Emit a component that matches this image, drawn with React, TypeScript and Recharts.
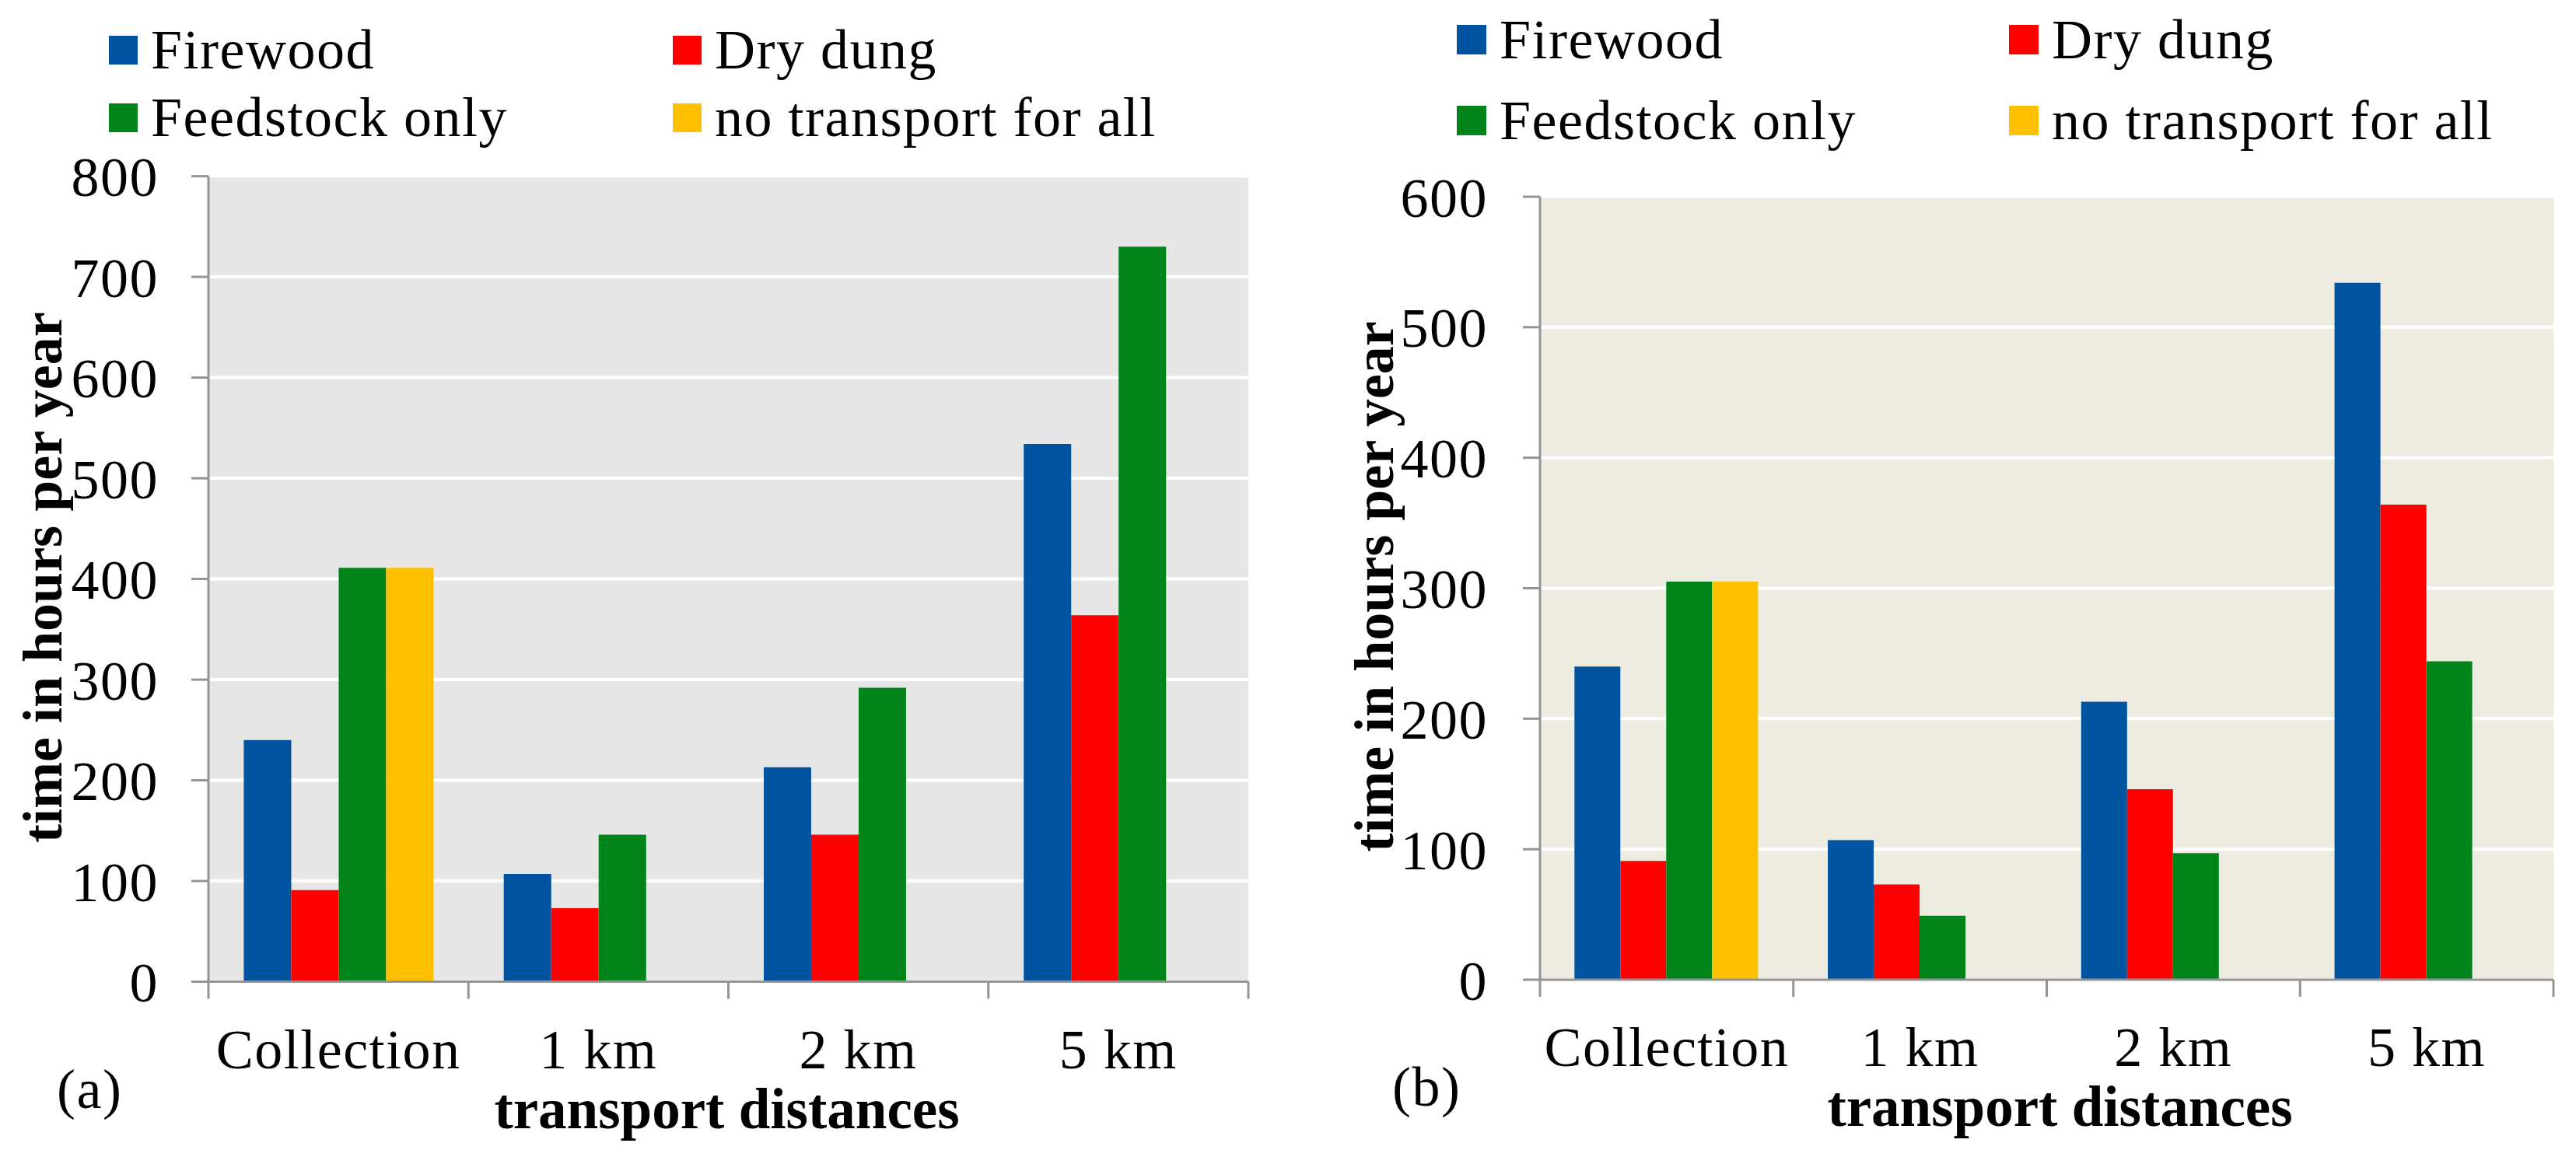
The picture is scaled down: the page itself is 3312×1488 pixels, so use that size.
import React from 'react';
import { BarChart, Bar, XAxis, YAxis, CartesianGrid, Legend, Label } from 'recharts';

// ---- data ----
const categories = ['Collection', '1 km', '2 km', '5 km'];
const seriesKeys = ['firewood', 'dryDung', 'feedstock', 'noTransport'];
const seriesNames = ['Firewood', 'Dry dung', 'Feedstock only', 'no transport for all'];
const seriesColors = ['#00539F', '#FF0000', '#00841A', '#FFC000'];

const firewoodA = [240, 107, 213, 534];
const dryDungA = [91, 73, 146, 364];
const feedstockA = [411, 146, 292, 730];
const noTransportA = [411, null, null, null];

const firewoodB = [240, 107, 213, 534];
const dryDungB = [91, 73, 146, 364];
const feedstockB = [305, 49, 97, 244];
const noTransportB = [305, null, null, null];

const ticksA = [0, 100, 200, 300, 400, 500, 600, 700, 800];
const ticksB = [0, 100, 200, 300, 400, 500, 600];

const yTitle = 'time in hours per year';
const xTitle = 'transport distances';

const buildRows = (f: any[], d: any[], s: any[], n: any[]) =>
  categories.map((c, i) => ({ category: c, firewood: f[i], dryDung: d[i], feedstock: s[i], noTransport: n[i] }));

const dataA = buildRows(firewoodA, dryDungA, feedstockA, noTransportA);
const dataB = buildRows(firewoodB, dryDungB, feedstockB, noTransportB);

// ---- styles ----
const FONT = '"Liberation Serif", "Times New Roman", serif';
const AXIS_GRAY = '#949494';
const TEXT_SIZE = 72;
const LETTER = 1.5;

type PanelProps = {
  data: any[];
  ticks: number[];
  bg: string;
  top: number;
  right: number;
  yAxisWidth: number;
  xAxisHeight: number;
  tickMargin: number;
  legendCols: number[];
  legendRows: number[];
  swatch: number;
  letter: string;
  letterX: number;
  letterY: number;
  titleDx: number;
};

const W = 1656;
const H = 1488;

function Panel(p: PanelProps) {
  const renderLegend = () => (
    <svg width={W} height={210} style={{ display: 'block' }}>
      {seriesNames.map((name, i) => {
        const col = i % 2;
        const row = Math.floor(i / 2);
        const sx = p.legendCols[col];
        const sy = p.legendRows[row];
        return (
          <g key={name}>
            <rect x={sx} y={sy} width={p.swatch} height={p.swatch} fill={seriesColors[i]} />
            <text
              x={sx + p.swatch + 17}
              y={sy + p.swatch + 5}
              fontFamily={FONT}
              fontSize={TEXT_SIZE}
              letterSpacing={LETTER}
              fill="#000"
            >
              {name}
            </text>
          </g>
        );
      })}
    </svg>
  );

  const XTick = (props: any) => {
    const { x, y, payload, index } = props;
    const half = payload && payload.offset ? payload.offset : 0;
    const isLast = index === categories.length - 1;
    return (
      <g>
        <line x1={x - half} x2={x - half} y1={y} y2={y + 22} stroke={AXIS_GRAY} strokeWidth={3} />
        {isLast && <line x1={x + half} x2={x + half} y1={y} y2={y + 22} stroke={AXIS_GRAY} strokeWidth={3} />}
        <text
          x={x}
          y={y + 111}
          textAnchor="middle"
          fontFamily={FONT}
          fontSize={TEXT_SIZE}
          letterSpacing={LETTER}
          fill="#000"
        >
          {payload.value}
        </text>
      </g>
    );
  };

  const renderYTitle = (props: any) => {
    const vb = props.viewBox || {};
    const px = vb.x + vb.width - 189;
    const py = vb.y + vb.height / 2 - 2;
    return (
      <text
        x={px}
        y={py}
        transform={`rotate(-90 ${px} ${py})`}
        textAnchor="middle"
        fontFamily={FONT}
        fontWeight="bold"
        fontSize={72}
        fill="#000"
      >
        {yTitle}
      </text>
    );
  };

  const renderXTitle = (props: any) => {
    const vb = props.viewBox || {};
    return (
      <g>
        <text
          x={vb.x + vb.width / 2 + p.titleDx}
          y={vb.y + 188}
          textAnchor="middle"
          fontFamily={FONT}
          fontWeight="bold"
          fontSize={73}
          fill="#000"
        >
          {xTitle}
        </text>
        <text
          x={vb.x + p.letterX}
          y={vb.y + p.letterY}
          textAnchor="start"
          fontFamily={FONT}
          fontSize={TEXT_SIZE}
          letterSpacing={LETTER}
          fill="#000"
        >
          {p.letter}
        </text>
      </g>
    );
  };

  return (
    <BarChart
      width={W}
      height={H}
      data={p.data}
      margin={{ top: p.top, right: p.right, bottom: 0, left: 0 }}
      barCategoryGap="13.6%"
      barGap={0}
      style={{ fontFamily: FONT }}
    >
      <CartesianGrid vertical={false} fill={p.bg} stroke="#FFFFFF" strokeWidth={4} />
      <XAxis
        dataKey="category"
        interval={0}
        height={p.xAxisHeight}
        tickLine={false}
        tickSize={0}
        tickMargin={0}
        axisLine={{ stroke: AXIS_GRAY, strokeWidth: 3 }}
        tick={(props: any) => <XTick {...props} />}
      >
        <Label content={renderXTitle} />
      </XAxis>
      <YAxis
        type="number"
        domain={[p.ticks[0], p.ticks[p.ticks.length - 1]]}
        ticks={p.ticks}
        interval={0}
        width={p.yAxisWidth}
        tickSize={22}
        tickMargin={p.tickMargin}
        axisLine={{ stroke: AXIS_GRAY, strokeWidth: 3 }}
        tickLine={{ stroke: AXIS_GRAY, strokeWidth: 3 }}
        tick={{ fontSize: TEXT_SIZE, fill: '#000', fontFamily: FONT, letterSpacing: LETTER }}
      >
        <Label content={renderYTitle} />
      </YAxis>
      <Legend
        layout="vertical"
        align="center"
        verticalAlign="middle"
        content={renderLegend}
        wrapperStyle={{ position: 'absolute', top: 0, left: 0, width: W, height: 210 }}
      />
      {seriesKeys.map((k, i) => (
        <Bar key={k} dataKey={k} name={seriesNames[i]} fill={seriesColors[i]} isAnimationActive={false} />
      ))}
    </BarChart>
  );
}

export default function App() {
  return (
    <div style={{ position: 'absolute', left: 0, top: 0, width: 3312, height: 1488, background: '#FFFFFF', overflow: 'hidden' }}>
      <div style={{ position: 'absolute', left: 0, top: 0 }}>
        <Panel
          data={dataA}
          ticks={ticksA}
          bg="#E6E6E6"
          top={226.6}
          right={51}
          yAxisWidth={268}
          xAxisHeight={225.4}
          tickMargin={42}
          legendCols={[140, 865]}
          legendRows={[46, 133]}
          swatch={37}
          letter="(a)"
          letterX={-195}
          letterY={162}
          titleDx={-2}
        />
      </div>
      <div style={{ position: 'absolute', left: 1656, top: 0 }}>
        <Panel
          data={dataB}
          ticks={ticksB}
          bg="#EEEBE0"
          top={253}
          right={29}
          yAxisWidth={324}
          xAxisHeight={228}
          tickMargin={45}
          legendCols={[217, 927]}
          legendRows={[32, 136]}
          swatch={38}
          letter="(b)"
          letterX={-190}
          letterY={162}
          titleDx={17}
        />
      </div>
    </div>
  );
}
